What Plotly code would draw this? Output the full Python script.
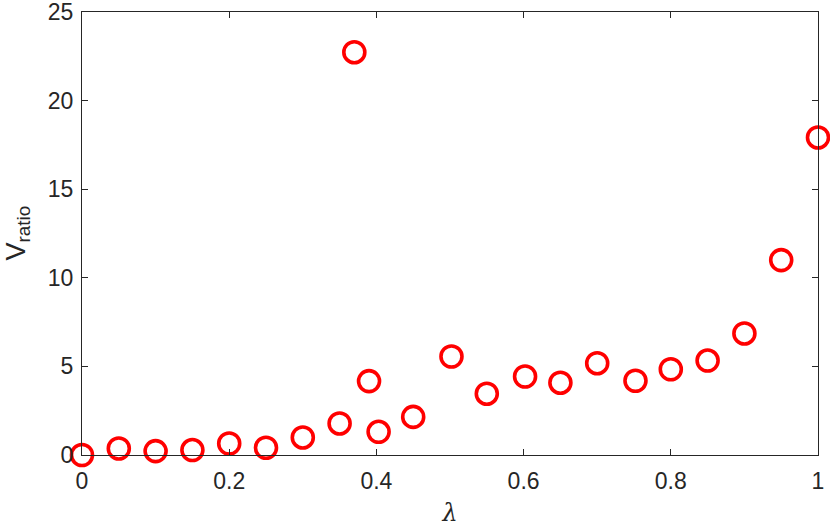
import plotly.graph_objects as go

# values
lam = [0.0, 0.05, 0.10, 0.15, 0.20, 0.25, 0.30, 0.35, 0.37, 0.39, 0.403, 0.45,
       0.502, 0.55, 0.602, 0.65, 0.70, 0.752, 0.80, 0.85, 0.90, 0.95, 1.0]
v_ratio = [0.0, 0.37, 0.22, 0.28, 0.65, 0.41, 0.99, 1.78, 22.73, 4.17, 1.31, 2.15,
           5.56, 3.46, 4.43, 4.08, 5.18, 4.19, 4.84, 5.33, 6.86, 11.0, 17.92]

x_ticks = [0, 0.2, 0.4, 0.6, 0.8, 1]
x_tick_text = ["0", "0.2", "0.4", "0.6", "0.8", "1"]
y_ticks = [0, 5, 10, 15, 20, 25]

axis_col = "#262626"

fig = go.Figure()
fig.add_trace(go.Scatter(
    x=lam, y=v_ratio,
    mode="markers",
    marker=dict(symbol="circle-open", size=21, color="#ff0000",
                line=dict(width=3.6, color="#ff0000")),
    cliponaxis=False,
    showlegend=False,
))

fig.update_layout(
    width=830, height=527,
    margin=dict(l=82, r=12, t=12, b=72),
    paper_bgcolor="white", plot_bgcolor="white",
    font=dict(family="Liberation Sans, Arial, sans-serif", size=23, color=axis_col),
)

fig.update_xaxes(
    range=[0, 1], tickvals=x_ticks, ticktext=x_tick_text,
    showgrid=False, zeroline=False, automargin=False,
    showline=True, linecolor=axis_col, linewidth=1, mirror="ticks",
    ticks="inside", ticklen=6, tickcolor=axis_col,
    ticklabelstandoff=5, ticklabeloverflow="allow",
    title=dict(text="<i>λ</i>", font=dict(family="DejaVu Serif, serif", size=24),
               standoff=14),
)
fig.update_yaxes(
    range=[0, 25], tickvals=y_ticks,
    showgrid=False, zeroline=False, automargin=False,
    showline=True, linecolor=axis_col, linewidth=1, mirror="ticks",
    ticks="inside", ticklen=6, tickcolor=axis_col,
    ticklabelstandoff=3, ticklabeloverflow="allow",
)

# y title as a rotated annotation so it can sit close to the page edge
fig.add_annotation(
    text="V<sub>ratio</sub>", xref="paper", yref="paper", x=0, y=0.5,
    xanchor="center", yanchor="middle", xshift=-65, textangle=-90,
    showarrow=False, font=dict(size=27, color=axis_col),
)

# drop the page's default body margin so the figure fills the window
fig.write_html("out.html", config={"displayModeBar": False},
               post_script="document.body.style.margin='0';document.body.style.overflow='hidden';")
